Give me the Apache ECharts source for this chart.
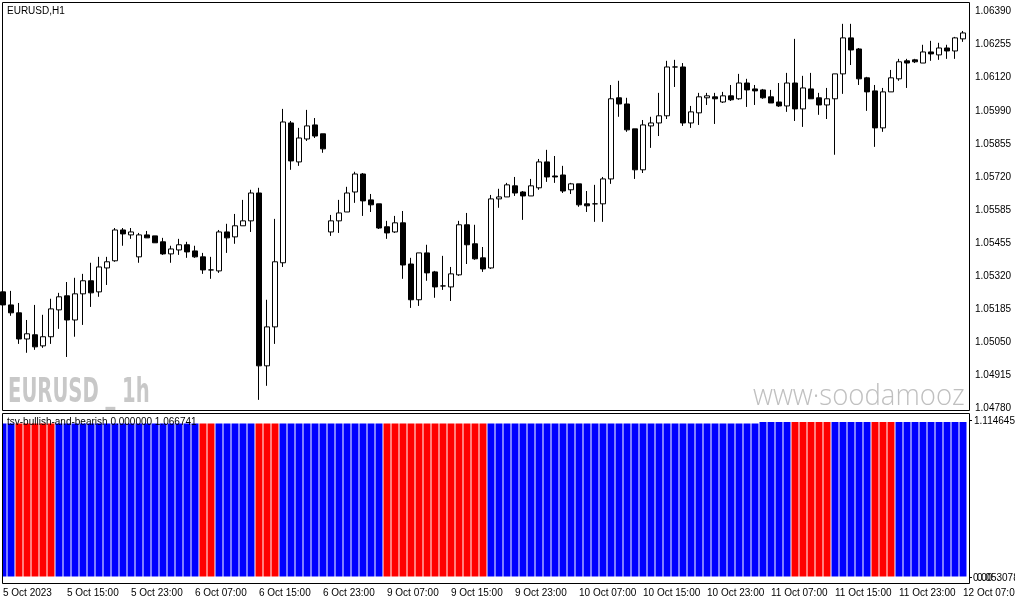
<!DOCTYPE html>
<html>
<head>
<meta charset="utf-8">
<script src="https://cdn.jsdelivr.net/npm/echarts@6/dist/echarts.min.js"></script>
<style>
  html, body { margin: 0; padding: 0; background: #fff; }
  #chart { width: 1015px; height: 605px; }
</style>
</head>
<body>
<div id="chart"></div>
<script>
// EURUSD H1, 5 Oct 2023 07:00 .. 12 Oct 2023 07:00
var open = [
  1.05253, 1.05200, 1.05168, 1.05062, 1.05079, 1.05034, 1.05071, 1.05180, 1.05237, 1.05139,
  1.05245, 1.05298, 1.05253, 1.05350, 1.05379, 1.05504, 1.05484, 1.05395, 1.05484, 1.05480,
  1.05456, 1.05407, 1.05423, 1.05444, 1.05419, 1.05395, 1.05342, 1.05338, 1.05496, 1.05476,
  1.05521, 1.05541, 1.05654, 1.04953, 1.05111, 1.05371, 1.05938, 1.05780, 1.05873, 1.05930,
  1.05894, 1.05496, 1.05541, 1.05577, 1.05658, 1.05731, 1.05626, 1.05610, 1.05517, 1.05496,
  1.05533, 1.05366, 1.05221, 1.05411, 1.05334, 1.05277, 1.05273, 1.05322, 1.05525, 1.05448,
  1.05391, 1.05350, 1.05630, 1.05638, 1.05683, 1.05658, 1.05642, 1.05675, 1.05780, 1.05723,
  1.05727, 1.05667, 1.05691, 1.05610, 1.05610, 1.05610, 1.05711, 1.06040, 1.06015, 1.05914,
  1.05748, 1.05926, 1.05938, 1.05967, 1.06165, 1.06165, 1.05938, 1.05979, 1.06040, 1.06044,
  1.06023, 1.06048, 1.06036, 1.06100, 1.06076, 1.06072, 1.06044, 1.06023, 1.06007, 1.06100,
  1.05995, 1.06076, 1.06040, 1.06011, 1.06036, 1.06137, 1.06283, 1.06238, 1.06121, 1.06068,
  1.05918, 1.06064, 1.06117, 1.06190, 1.06194, 1.06181, 1.06226, 1.06214, 1.06242, 1.06230,
  1.06279
];
var high = [
  1.05257, 1.05257, 1.05208, 1.05139, 1.05200, 1.05160, 1.05225, 1.05249, 1.05293, 1.05310,
  1.05326, 1.05371, 1.05395, 1.05395, 1.05512, 1.05512, 1.05512, 1.05492, 1.05500, 1.05480,
  1.05472, 1.05440, 1.05468, 1.05456, 1.05440, 1.05411, 1.05395, 1.05504, 1.05529, 1.05569,
  1.05626, 1.05667, 1.05675, 1.05221, 1.05549, 1.05995, 1.05946, 1.05918, 1.05991, 1.05958,
  1.05894, 1.05565, 1.05626, 1.05679, 1.05740, 1.05735, 1.05650, 1.05610, 1.05541, 1.05561,
  1.05581, 1.05391, 1.05411, 1.05444, 1.05338, 1.05399, 1.05354, 1.05541, 1.05573, 1.05525,
  1.05435, 1.05646, 1.05671, 1.05695, 1.05719, 1.05662, 1.05711, 1.05792, 1.05829, 1.05804,
  1.05764, 1.05695, 1.05691, 1.05662, 1.05687, 1.05719, 1.06092, 1.06109, 1.06040, 1.05914,
  1.05950, 1.05963, 1.06060, 1.06190, 1.06194, 1.06181, 1.06007, 1.06060, 1.06060, 1.06060,
  1.06064, 1.06092, 1.06137, 1.06117, 1.06092, 1.06076, 1.06072, 1.06100, 1.06141, 1.06279,
  1.06129, 1.06141, 1.06060, 1.06080, 1.06137, 1.06340, 1.06340, 1.06242, 1.06125, 1.06092,
  1.06080, 1.06153, 1.06198, 1.06198, 1.06198, 1.06255, 1.06271, 1.06263, 1.06255, 1.06287,
  1.06311
];
var low = [
  1.05196, 1.05156, 1.05042, 1.05006, 1.05018, 1.05026, 1.05042, 1.05103, 1.04989, 1.05071,
  1.05119, 1.05192, 1.05233, 1.05281, 1.05375, 1.05440, 1.05468, 1.05371, 1.05472, 1.05452,
  1.05403, 1.05371, 1.05403, 1.05391, 1.05391, 1.05326, 1.05306, 1.05330, 1.05411, 1.05448,
  1.05521, 1.05496, 1.04815, 1.04872, 1.05042, 1.05354, 1.05748, 1.05764, 1.05865, 1.05877,
  1.05817, 1.05480, 1.05492, 1.05577, 1.05614, 1.05561, 1.05577, 1.05508, 1.05468, 1.05492,
  1.05306, 1.05188, 1.05196, 1.05298, 1.05229, 1.05261, 1.05216, 1.05318, 1.05366, 1.05383,
  1.05334, 1.05346, 1.05594, 1.05638, 1.05642, 1.05545, 1.05642, 1.05667, 1.05699, 1.05695,
  1.05654, 1.05650, 1.05598, 1.05577, 1.05537, 1.05537, 1.05691, 1.05963, 1.05902, 1.05711,
  1.05735, 1.05837, 1.05885, 1.05954, 1.06084, 1.05926, 1.05918, 1.05930, 1.06011, 1.05934,
  1.06019, 1.06027, 1.06032, 1.06003, 1.06011, 1.06036, 1.06019, 1.06003, 1.05983, 1.05946,
  1.05922, 1.06036, 1.05971, 1.05954, 1.05809, 1.06056, 1.06173, 1.06092, 1.05987, 1.05841,
  1.05902, 1.06064, 1.06109, 1.06080, 1.06181, 1.06181, 1.06190, 1.06194, 1.06198, 1.06198,
  1.06267
];
var close = [
  1.05200, 1.05168, 1.05062, 1.05083, 1.05030, 1.05071, 1.05184, 1.05233, 1.05139, 1.05245,
  1.05298, 1.05249, 1.05354, 1.05375, 1.05504, 1.05488, 1.05496, 1.05484, 1.05472, 1.05452,
  1.05407, 1.05427, 1.05444, 1.05415, 1.05395, 1.05342, 1.05342, 1.05496, 1.05472, 1.05521,
  1.05541, 1.05654, 1.04953, 1.05111, 1.05375, 1.05942, 1.05784, 1.05877, 1.05926, 1.05885,
  1.05833, 1.05541, 1.05573, 1.05654, 1.05731, 1.05622, 1.05606, 1.05512, 1.05492, 1.05533,
  1.05362, 1.05221, 1.05411, 1.05330, 1.05273, 1.05277, 1.05326, 1.05525, 1.05444, 1.05387,
  1.05346, 1.05630, 1.05638, 1.05687, 1.05654, 1.05642, 1.05683, 1.05780, 1.05719, 1.05719,
  1.05662, 1.05691, 1.05606, 1.05602, 1.05610, 1.05711, 1.06036, 1.06015, 1.05910, 1.05748,
  1.05930, 1.05938, 1.05967, 1.06165, 1.06165, 1.05938, 1.05983, 1.06044, 1.06048, 1.06036,
  1.06048, 1.06032, 1.06100, 1.06072, 1.06068, 1.06040, 1.06019, 1.06007, 1.06100, 1.05995,
  1.06080, 1.06036, 1.06011, 1.06036, 1.06137, 1.06283, 1.06234, 1.06117, 1.06064, 1.05918,
  1.06064, 1.06121, 1.06186, 1.06181, 1.06186, 1.06226, 1.06218, 1.06242, 1.06230, 1.06283,
  1.06303
];

// indicator: 1 = bullish (blue), 0 = bearish (red)
var trend = [
  1,1,0,0,0,0,0,1,1,1,1,1,1,1,1,1,1,1,1,1,
  1,1,1,1,1,0,0,1,1,1,1,1,0,0,0,1,1,1,1,1,
  1,1,1,1,1,1,1,1,0,0,0,0,0,0,0,0,0,0,0,0,
  0,1,1,1,1,1,1,1,1,1,1,1,1,1,1,1,1,1,1,1,
  1,1,1,1,1,1,1,1,1,1,1,1,1,1,1,1,1,1,1,0,
  0,0,0,0,1,1,1,1,1,0,0,0,1,1,1,1,1,1,1,1,
  1
];
var indValue = [
  1.0558, 1.0558, 1.0558, 1.0558, 1.0558, 1.0558, 1.0558, 1.0558, 1.0558, 1.0558,
  1.0558, 1.0558, 1.0558, 1.0558, 1.0558, 1.0558, 1.0558, 1.0558, 1.0558, 1.0558,
  1.0558, 1.0558, 1.0558, 1.0558, 1.0558, 1.0558, 1.0558, 1.0558, 1.0558, 1.0558,
  1.0558, 1.0558, 1.0558, 1.0558, 1.0558, 1.0558, 1.0558, 1.0558, 1.0558, 1.0558,
  1.0558, 1.0558, 1.0558, 1.0558, 1.0558, 1.0558, 1.0558, 1.0558, 1.0558, 1.0558,
  1.0558, 1.0558, 1.0558, 1.0558, 1.0558, 1.0558, 1.0558, 1.0558, 1.0558, 1.0558,
  1.0558, 1.0558, 1.0558, 1.0558, 1.0558, 1.0558, 1.0558, 1.0558, 1.0558, 1.0558,
  1.0558, 1.0558, 1.0558, 1.0558, 1.0558, 1.0558, 1.0558, 1.0558, 1.0558, 1.0558,
  1.0558, 1.0558, 1.0558, 1.0558, 1.0558, 1.0558, 1.0558, 1.0558, 1.0558, 1.0558,
  1.0558, 1.0558, 1.0558, 1.0558, 1.0558, 1.0667, 1.0667, 1.0667, 1.0667, 1.0667,
  1.0667, 1.0667, 1.0667, 1.0667, 1.0667, 1.0667, 1.0667, 1.0667, 1.0667, 1.0667,
  1.0667, 1.0667, 1.0667, 1.0667, 1.0667, 1.0667, 1.0667, 1.0667, 1.0667, 1.0667,
  1.066741
];

var timeLabels = ['5 Oct 2023', '5 Oct 15:00', '5 Oct 23:00', '6 Oct 07:00', '6 Oct 15:00',
  '6 Oct 23:00', '9 Oct 07:00', '9 Oct 15:00', '9 Oct 23:00', '10 Oct 07:00', '10 Oct 15:00',
  '10 Oct 23:00', '11 Oct 07:00', '11 Oct 15:00', '11 Oct 23:00', '12 Oct 07:00'];
// right price scale, bottom to top
var priceTicks = ['1.04780', '1.04915', '1.05050', '1.05185', '1.05320', '1.05455', '1.05585',
  '1.05720', '1.05855', '1.05990', '1.06120', '1.06255', '1.06390'];
var priceMin = 1.04780;
var priceMax = 1.06390;
var indMax = 1.114645;
var indTicks = ['1.114645', '0.00', '0.053078'];

var font = "'Liberation Sans', Arial, sans-serif";

var chart = echarts.init(document.getElementById('chart'));

var candles = open.map(function (o, i) { return [o, close[i], low[i], high[i]]; });
var cats = open.map(function (o, i) { return i % 8 === 0 ? timeLabels[i / 8] : ''; });
var bullBars = indValue.map(function (v, i) { return trend[i] ? v : '-'; });
var bearBars = indValue.map(function (v, i) { return trend[i] ? '-' : v; });

var option = {
  animation: false,
  backgroundColor: '#fff',
  textStyle: { fontFamily: font },
  grid: [
    { left: 3, width: 960, top: 11.5, height: 397, outerBoundsMode: 'none' },
    { left: -1, width: 968, top: 415, height: 161.5, outerBoundsMode: 'none' }
  ],
  xAxis: [
    { type: 'category', gridIndex: 0, data: cats, boundaryGap: false, show: false },
    {
      type: 'category', gridIndex: 1, data: cats, boundaryGap: true, offset: 7,
      axisLine: { show: false },
      axisTick: { interval: 7, alignWithLabel: true, length: 4, lineStyle: { color: '#000' } },
      axisLabel: { interval: 7, align: 'left', margin: 5, color: '#000', fontSize: 10, fontFamily: font }
    }
  ],
  yAxis: [
    { type: 'value', gridIndex: 0, min: priceMin, max: priceMax, show: false },
    {
      type: 'category', gridIndex: 0, position: 'right', offset: 6, data: priceTicks,
      boundaryGap: false,
      axisLine: { show: false },
      axisTick: { length: 3, lineStyle: { color: '#000' } },
      axisLabel: { interval: 0, margin: 6, color: '#000', fontSize: 10, fontFamily: font }
    },
    { type: 'value', gridIndex: 1, min: 0, max: indMax, show: false }
  ],
  series: [
    {
      type: 'candlestick', xAxisIndex: 0, yAxisIndex: 0, data: candles, barWidth: 5, silent: true,
      itemStyle: {
        color: '#fff', color0: '#000', borderColor: '#000', borderColor0: '#000',
        borderColorDoji: '#000', borderWidth: 1
      }
    },
    {
      type: 'bar', xAxisIndex: 1, yAxisIndex: 2, data: bullBars, barWidth: 7, barGap: '-100%',
      silent: true, itemStyle: { color: '#0000ff' }
    },
    {
      type: 'bar', xAxisIndex: 1, yAxisIndex: 2, data: bearBars, barWidth: 7, barGap: '-100%',
      silent: true, itemStyle: { color: '#ff0000' }
    }
  ],
  graphic: [
    { type: 'rect', silent: true, z: 10, shape: { x: 0, y: 412, width: 2.5, height: 173 },
      style: { fill: '#fff' } },
    { type: 'rect', silent: true, z: 10, shape: { x: 2.5, y: 2.5, width: 967, height: 408 },
      style: { fill: 'none', stroke: '#000', lineWidth: 1 } },
    { type: 'rect', silent: true, z: 10, shape: { x: 2.5, y: 413.5, width: 967, height: 170 },
      style: { fill: 'none', stroke: '#000', lineWidth: 1 } },
    { type: 'text', silent: true, z: 10, x: 7, y: 11,
      style: { text: 'EURUSD,H1', font: '10px ' + font, fill: '#000', verticalAlign: 'middle' } },
    { type: 'text', silent: true, z: 10, x: 8, y: 393, scaleX: 0.66,
      style: { text: 'EURUSD _ 1h', font: "bold 33px 'DejaVu Sans Condensed', 'DejaVu Sans', sans-serif",
        fill: '#c8c8c8', verticalAlign: 'middle' } },
    { type: 'text', silent: true, z: 10, x: 753, y: 397, scaleX: 0.95,
      style: { text: 'www\u00b7soodamooz', font: "300 29px 'Open Sans', sans-serif",
        fill: '#c0c0c0', verticalAlign: 'middle' } },
    { type: 'text', silent: true, z: 10, x: 7, y: 422.5,
      style: { text: 'tsv-bullish-and-bearish 0.000000 1.066741', font: '10px ' + font,
        fill: '#000', verticalAlign: 'middle' } },
    { type: 'text', silent: true, z: 10, x: 974, y: 421,
      style: { text: indTicks[0], font: '10px ' + font, fill: '#000', verticalAlign: 'middle' } },
    { type: 'text', silent: true, z: 10, x: 973, y: 578,
      style: { text: indTicks[1], font: '10px ' + font, fill: '#000', verticalAlign: 'middle' } },
    { type: 'text', silent: true, z: 10, x: 977, y: 578,
      style: { text: indTicks[2], font: '10px ' + font, fill: '#000', verticalAlign: 'middle' } },
    { type: 'line', silent: true, z: 10, shape: { x1: 969, y1: 420.5, x2: 972, y2: 420.5 },
      style: { stroke: '#000', lineWidth: 1 } },
    { type: 'line', silent: true, z: 10, shape: { x1: 969, y1: 577.5, x2: 972, y2: 577.5 },
      style: { stroke: '#000', lineWidth: 1 } }
  ]
};

chart.setOption(option);
</script>
</body>
</html>
